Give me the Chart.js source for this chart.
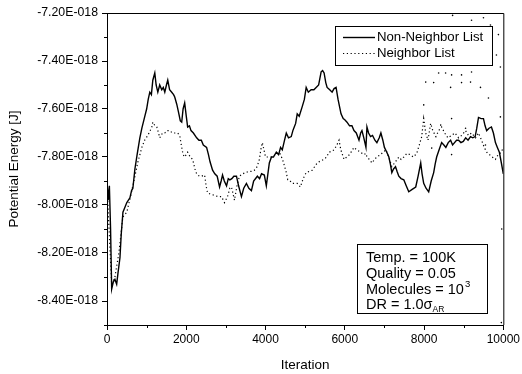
<!DOCTYPE html>
<html>
<head>
<meta charset="utf-8">
<script src="https://cdn.jsdelivr.net/npm/chart.js@4"></script>
<style>
    html, body { margin: 0; padding: 0; background: #fff; }
    #chart { display: block; }
</style>
</head>
<body>
<canvas id="chart" width="522" height="374"></canvas>
<script>
// energies in units of 1E-018 J
const nonNeighborIter = [0, 30, 60, 90, 118, 160, 200, 244, 280, 327, 360, 402, 450, 500, 578, 620, 653, 704, 760, 829, 880, 955, 1000, 1040, 1080, 1120, 1156, 1206, 1240, 1282, 1330, 1382, 1420, 1458, 1500, 1533, 1580, 1633, 1680, 1709, 1760, 1800, 1850, 1885, 1920, 1960, 2000, 2035, 2080, 2120, 2180, 2262, 2320, 2380, 2430, 2513, 2560, 2600, 2664, 2720, 2780, 2840, 2880, 2915, 2960, 3016, 3060, 3100, 3150, 3200, 3267, 3320, 3392, 3450, 3518, 3580, 3644, 3700, 3795, 3850, 3900, 3970, 4020, 4096, 4150, 4200, 4272, 4330, 4380, 4423, 4480, 4524, 4580, 4649, 4690, 4725, 4760, 4800, 4850, 4926, 4980, 5026, 5080, 5150, 5220, 5277, 5340, 5403, 5440, 5478, 5520, 5554, 5620, 5680, 5730, 5780, 5830, 5905, 5960, 6000, 6056, 6120, 6180, 6232, 6290, 6358, 6400, 6433, 6480, 6534, 6559, 6600, 6650, 6700, 6760, 6810, 6870, 6911, 6960, 7000, 7060, 7112, 7150, 7187, 7230, 7280, 7320, 7363, 7420, 7489, 7550, 7614, 7700, 7790, 7850, 7916, 7950, 7991, 8050, 8117, 8180, 8243, 8280, 8318, 8380, 8444, 8500, 8550, 8610, 8670, 8720, 8770, 8820, 8871, 8930, 8990, 9050, 9110, 9173, 9230, 9290, 9330, 9374, 9440, 9499, 9540, 9580, 9640, 9700, 9750, 9801, 9850, 9900, 9951, 10000];
const nonNeighborEnergy = [-7.90, -7.98, -7.92, -8.10, -8.35, -8.32, -8.31, -8.33, -8.28, -8.22, -8.12, -8.03, -8.01, -7.99, -7.97, -7.94, -7.93, -7.85, -7.79, -7.72, -7.68, -7.63, -7.60, -7.56, -7.53, -7.54, -7.48, -7.45, -7.50, -7.53, -7.50, -7.52, -7.51, -7.53, -7.50, -7.48, -7.52, -7.53, -7.54, -7.55, -7.58, -7.61, -7.65, -7.655, -7.60, -7.575, -7.63, -7.675, -7.67, -7.69, -7.70, -7.72, -7.73, -7.73, -7.75, -7.76, -7.79, -7.82, -7.855, -7.87, -7.88, -7.925, -7.90, -7.875, -7.90, -7.92, -7.89, -7.895, -7.89, -7.88, -7.88, -7.92, -7.965, -7.93, -7.91, -7.93, -7.94, -7.90, -7.88, -7.89, -7.87, -7.875, -7.92, -7.825, -7.80, -7.80, -7.78, -7.79, -7.76, -7.77, -7.73, -7.70, -7.72, -7.715, -7.69, -7.675, -7.66, -7.62, -7.63, -7.59, -7.56, -7.51, -7.53, -7.52, -7.52, -7.51, -7.50, -7.445, -7.44, -7.45, -7.49, -7.51, -7.52, -7.53, -7.515, -7.51, -7.56, -7.62, -7.64, -7.645, -7.655, -7.67, -7.67, -7.69, -7.70, -7.73, -7.70, -7.69, -7.72, -7.76, -7.675, -7.70, -7.715, -7.71, -7.73, -7.74, -7.72, -7.70, -7.73, -7.76, -7.78, -7.80, -7.83, -7.865, -7.85, -7.84, -7.86, -7.88, -7.89, -7.895, -7.92, -7.945, -7.935, -7.925, -7.88, -7.825, -7.87, -7.91, -7.93, -7.945, -7.90, -7.865, -7.83, -7.80, -7.77, -7.74, -7.75, -7.76, -7.74, -7.73, -7.75, -7.74, -7.73, -7.73, -7.74, -7.735, -7.72, -7.73, -7.715, -7.72, -7.715, -7.68, -7.635, -7.64, -7.64, -7.67, -7.69, -7.68, -7.675, -7.70, -7.74, -7.76, -7.78, -7.825, -7.87];

const neighborIter = [0, 118, 200, 300, 400, 500, 600, 704, 780, 880, 950, 1030, 1090, 1131, 1156, 1210, 1256, 1300, 1332, 1400, 1458, 1520, 1583, 1650, 1709, 1780, 1834, 1885, 1920, 1960, 2035, 2100, 2161, 2220, 2262, 2330, 2387, 2463, 2500, 2538, 2620, 2714, 2800, 2890, 2965, 3041, 3100, 3141, 3217, 3280, 3342, 3420, 3500, 3570, 3644, 3720, 3790, 3845, 3880, 3920, 3960, 4000, 4070, 4147, 4250, 4348, 4430, 4500, 4524, 4560, 4620, 4674, 4740, 4800, 4880, 4950, 5026, 5100, 5177, 5240, 5303, 5400, 5478, 5540, 5604, 5680, 5730, 5800, 5855, 5900, 5981, 6050, 6120, 6232, 6300, 6400, 6480, 6534, 6559, 6620, 6685, 6750, 6810, 6900, 6970, 7036, 7110, 7187, 7280, 7363, 7420, 7489, 7564, 7650, 7730, 7815, 7880, 7941, 7991, 8042, 8100, 8167, 8220, 8300, 8369, 8444, 8520, 8600, 8695, 8780, 8871, 8950, 9047, 9120, 9200, 9300, 9374, 9450, 9520, 9580, 9650, 9720, 9800, 9870, 9950, 10000];
const neighborEnergy = [-7.92, -8.33, -8.30, -8.20, -8.05, -8.03, -7.96, -7.88, -7.82, -7.76, -7.73, -7.71, -7.69, -7.675, -7.655, -7.67, -7.675, -7.70, -7.72, -7.70, -7.70, -7.69, -7.69, -7.70, -7.70, -7.70, -7.71, -7.76, -7.79, -7.80, -7.78, -7.80, -7.81, -7.85, -7.87, -7.88, -7.88, -7.875, -7.92, -7.95, -7.955, -7.96, -7.965, -7.965, -7.99, -7.965, -7.93, -7.925, -7.98, -7.92, -7.88, -7.87, -7.865, -7.86, -7.86, -7.855, -7.84, -7.81, -7.77, -7.74, -7.77, -7.80, -7.80, -7.80, -7.79, -7.78, -7.81, -7.85, -7.865, -7.895, -7.90, -7.91, -7.91, -7.91, -7.925, -7.89, -7.865, -7.86, -7.855, -7.84, -7.825, -7.815, -7.81, -7.80, -7.78, -7.775, -7.77, -7.75, -7.73, -7.77, -7.81, -7.80, -7.79, -7.76, -7.77, -7.78, -7.79, -7.785, -7.80, -7.81, -7.825, -7.81, -7.80, -7.79, -7.78, -7.77, -7.80, -7.84, -7.82, -7.80, -7.81, -7.80, -7.785, -7.79, -7.80, -7.785, -7.75, -7.715, -7.64, -7.70, -7.73, -7.66, -7.69, -7.715, -7.69, -7.675, -7.70, -7.72, -7.71, -7.70, -7.72, -7.71, -7.69, -7.71, -7.70, -7.72, -7.70, -7.73, -7.76, -7.78, -7.79, -7.80, -7.81, -7.79, -7.78, -7.76];

// stray dots of the neighbor-list trace after ~8000 iterations
const strayIter = [8368, 8544, 8695, 8946, 9198, 8042, 8243, 8670, 8946, 9173, 9424, 9625, 7991, 8720, 9198, 9499, 9675, 9876, 9926, 9826, 8695, 8419, 9047, 8193, 8695, 9550, 9926, 9950, 9960];
const strayEnergy = [-7.45, -7.45, -7.458, -7.458, -7.446, -7.488, -7.49, -7.51, -7.49, -7.488, -7.51, -7.554, -7.583, -7.21, -7.23, -7.22, -7.25, -7.29, -7.425, -7.375, -7.64, -7.667, -7.68, -7.763, -7.79, -7.75, -7.633, -8.49, -8.10];

const xTicks = [0, 2000, 4000, 6000, 8000, 10000];
const xMinorTicks = [1000, 3000, 5000, 7000, 9000];
const yTicks = [-8.4, -8.2, -8.0, -7.8, -7.6, -7.4, -7.2];
const yMinorTicks = [-8.5, -8.3, -8.1, -7.9, -7.7, -7.5, -7.3];

const infoLines = ['Temp. = 100K', 'Quality = 0.05', 'Molecules = 10', 'DR = 1.0'];

const FONT = '"Liberation Sans", Arial, Helvetica, sans-serif';

function toPoints(xs, ys) {
    return xs.map((x, i) => ({ x: x, y: ys[i] }));
}

// frame, minor ticks, legend and the parameter box
const decorations = {
    id: 'decorations',
    afterDraw(chart) {
        const ctx = chart.ctx;
        const a = chart.chartArea;
        const xs = chart.scales.x;
        const ys = chart.scales.y;
        ctx.save();
        ctx.strokeStyle = '#000';
        ctx.lineWidth = 1;
        ctx.beginPath();
        ctx.moveTo(a.left, a.top + 0.5);
        ctx.lineTo(a.right + 0.5, a.top + 0.5);
        ctx.lineTo(a.right + 0.5, a.bottom);
        ctx.stroke();

        ctx.beginPath();
        xMinorTicks.forEach(v => {
            const px = Math.round(xs.getPixelForValue(v)) + 0.5;
            ctx.moveTo(px, a.bottom);
            ctx.lineTo(px, a.bottom + 3);
        });
        yMinorTicks.forEach(v => {
            const py = Math.round(ys.getPixelForValue(v)) + 0.5;
            ctx.moveTo(a.left, py);
            ctx.lineTo(a.left - 3, py);
        });
        ctx.stroke();

        // legend
        const lx = 335, ly = 26, lw = 157, lh = 39;
        ctx.fillStyle = '#fff';
        ctx.fillRect(lx, ly, lw, lh);
        ctx.strokeRect(lx + 0.5, ly + 0.5, lw, lh);
        ctx.font = '13.2px ' + FONT;
        ctx.fillStyle = '#000';
        ctx.textBaseline = 'middle';
        const rows = [37, 53];
        [0, 1].forEach(i => {
            const ds = chart.data.datasets[i];
            ctx.beginPath();
            ctx.lineWidth = ds.borderWidth;
            ctx.setLineDash(ds.borderDash || []);
            ctx.moveTo(343, rows[i] + 0.5);
            ctx.lineTo(375, rows[i] + 0.5);
            ctx.stroke();
            ctx.setLineDash([]);
            ctx.fillText(ds.label, 377, rows[i]);
        });

        // parameter box
        const bx = 357, by = 244, bw = 130, bh = 69;
        ctx.lineWidth = 1;
        ctx.fillStyle = '#fff';
        ctx.fillRect(bx, by, bw, bh);
        ctx.strokeRect(bx + 0.5, by + 0.5, bw, bh);
        ctx.fillStyle = '#000';
        ctx.font = '14.5px ' + FONT;
        ctx.textBaseline = 'middle';
        const tx = 366;
        const lineY = [258, 274, 290, 305];
        ctx.fillText(infoLines[0], tx, lineY[0]);
        ctx.fillText(infoLines[1], tx, lineY[1]);
        ctx.fillText(infoLines[2], tx, lineY[2]);
        let w = ctx.measureText(infoLines[2]).width;
        ctx.font = '9.5px ' + FONT;
        ctx.fillText('3', tx + w + 1, lineY[2] - 6);
        ctx.font = '14.5px ' + FONT;
        ctx.fillText(infoLines[3], tx, lineY[3]);
        w = ctx.measureText(infoLines[3]).width;
        ctx.fillText('\u03C3', tx + w, lineY[3]);
        const ws = ctx.measureText('\u03C3').width;
        ctx.font = '8.5px ' + FONT;
        ctx.fillText('AR', tx + w + ws, lineY[3] + 5);
        ctx.restore();
    }
};

const chart = new Chart(document.getElementById('chart'), {
    type: 'line',
    data: {
        datasets: [{
            label: 'Non-Neighbor List',
            data: toPoints(nonNeighborIter, nonNeighborEnergy),
            borderColor: '#000',
            borderWidth: 1.4,
            pointRadius: 0,
            tension: 0
        }, {
            label: 'Neighbor List',
            data: toPoints(neighborIter, neighborEnergy),
            borderColor: '#000',
            borderWidth: 1.2,
            borderDash: [1.2, 2.6],
            pointRadius: 0,
            tension: 0
        }, {
            type: 'scatter',
            label: 'Neighbor List (stray)',
            data: toPoints(strayIter, strayEnergy),
            backgroundColor: '#000',
            borderWidth: 0,
            pointRadius: 0.8,
            showLine: false
        }]
    },
    options: {
        responsive: false,
        animation: false,
        layout: { padding: { left: 0, top: 13, right: 17, bottom: 0 } },
        plugins: {
            legend: { display: false },
            tooltip: { enabled: false }
        },
        scales: {
            x: {
                type: 'linear',
                min: 0,
                max: 10000,
                afterFit: s => { s.height = 49; },
                afterBuildTicks: s => { s.ticks = xTicks.map(v => ({ value: v })); },
                grid: { drawOnChartArea: false, tickLength: 5, color: '#000' },
                border: { color: '#000', width: 1 },
                ticks: {
                    color: '#000',
                    font: { family: FONT, size: 12 },
                    padding: 2,
                    maxRotation: 0,
                    callback: v => String(v)
                },
                title: {
                    display: true,
                    text: 'Iteration',
                    color: '#000',
                    font: { family: FONT, size: 13.5 },
                    padding: { top: 0, bottom: 1 }
                }
            },
            y: {
                type: 'linear',
                min: -8.5,
                max: -7.2,
                afterFit: s => { s.width = 107; },
                afterBuildTicks: s => { s.ticks = yTicks.map(v => ({ value: v })); },
                grid: { drawOnChartArea: false, tickLength: 5, color: '#000' },
                border: { color: '#000', width: 1 },
                ticks: {
                    color: '#000',
                    font: { family: FONT, size: 12.3 },
                    padding: 4,
                    callback: v => v.toFixed(2) + 'E-018'
                },
                title: {
                    display: true,
                    text: 'Potential Energy [J]',
                    color: '#000',
                    font: { family: FONT, size: 13.5 },
                    padding: { top: 6, bottom: 0 }
                }
            }
        }
    },
    plugins: [decorations]
});
</script>
</body>
</html>
